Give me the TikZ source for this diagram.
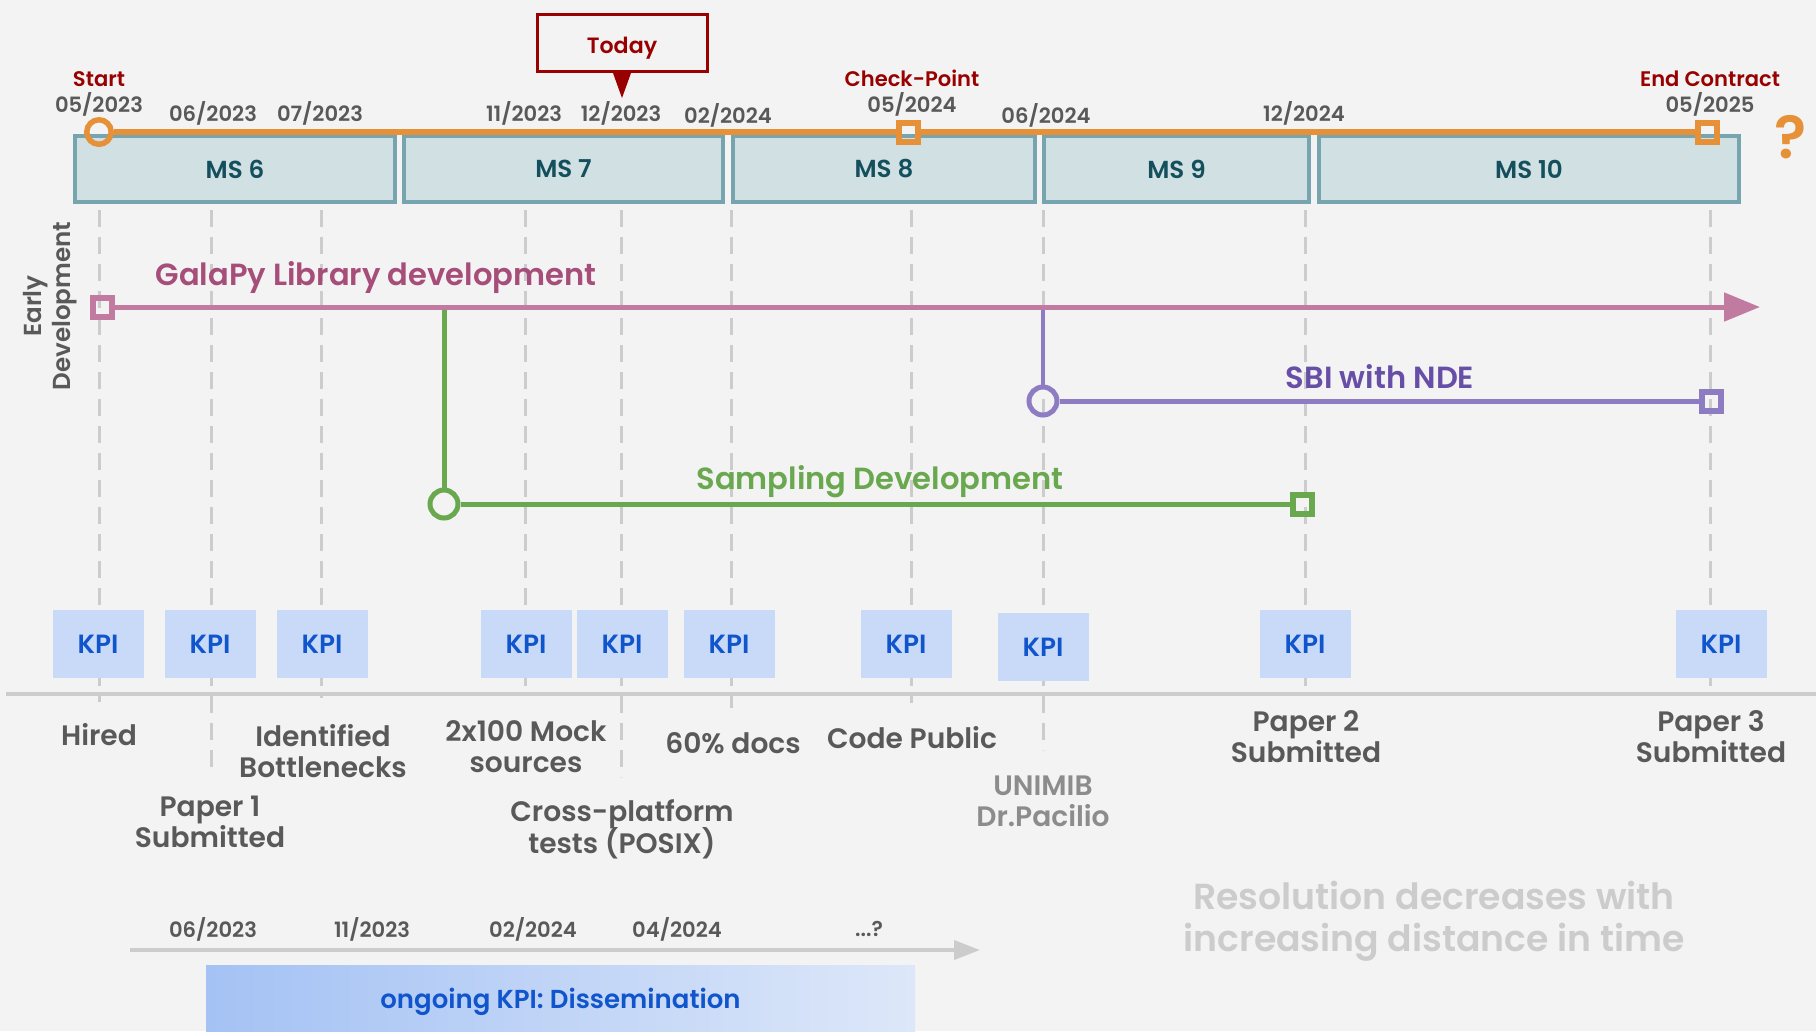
\documentclass[tikz,border=0pt]{standalone}
\usepackage{fontspec}
\setmainfont{Poppins}[BoldFont={Poppins SemiBold}]
\usetikzlibrary{positioning}
\usetikzlibrary{arrows.meta}
\definecolor{bgcol}{HTML}{F3F3F3}
\definecolor{msfill}{HTML}{D0E0E3}
\definecolor{msedge}{HTML}{76A5AF}
\definecolor{mstext}{HTML}{134F5C}
\definecolor{tlorange}{HTML}{E69138}
\definecolor{darkred}{HTML}{990000}
\definecolor{datetext}{HTML}{595959}
\definecolor{galapink}{HTML}{C27BA0}
\definecolor{galatext}{HTML}{A64D79}
\definecolor{sampgreen}{HTML}{6AA84F}
\definecolor{sbipurple}{HTML}{8E7CC3}
\definecolor{sbitext}{HTML}{674EA7}
\definecolor{kpifill}{HTML}{C9DAF8}
\definecolor{kpitext}{HTML}{1155CC}
\definecolor{guidegray}{HTML}{CCCCCC}
\definecolor{unimibgray}{HTML}{8C8C8C}
\definecolor{dissleft}{HTML}{A4C2F4}
\definecolor{dissright}{HTML}{DDE7F9}
\tikzset{x=0.1mm, y=-0.1mm,
    msbox/.style={
        draw=msedge,
        fill=msfill,
        line width=0.4mm,
        minimum height=6.6mm,
        inner sep=0pt,
        text=mstext,
        font=\bfseries\fontsize{7}{8}\selectfont},
    datelbl/.style={
        text=datetext,
        inner sep=0pt,
        font=\bfseries\fontsize{6}{7}\selectfont},
    milelbl/.style={
        text=darkred,
        inner sep=0pt,
        font=\bfseries\fontsize{6}{7}\selectfont},
    ringmark/.style={
        circle,
        draw,
        line width=0.5mm,
        minimum size=2.8mm,
        inner sep=0pt},
    boxmark/.style={
        rectangle,
        draw,
        line width=0.6mm,
        minimum size=1.9mm,
        inner sep=0pt},
    tracklbl/.style={
        inner sep=0pt,
        font=\bfseries\fontsize{8.7}{10}\selectfont},
    kpi/.style={
        fill=kpifill,
        minimum width=9.1mm,
        minimum height=6.8mm,
        inner sep=0pt,
        text=kpitext,
        font=\bfseries\fontsize{7.5}{9}\selectfont},
    eventlbl/.style={
        text=datetext,
        align=center,
        inner sep=0pt,
        font=\bfseries\fontsize{8}{8.8}\selectfont},
    guide/.style={
        draw=guidegray,
        line width=0.3mm,
        dash pattern=on 1.7mm off 1mm}}

\begin{document}
\begin{tikzpicture}
    \fill[bgcol] (0,0) rectangle (1816,1031);
    \useasboundingbox (0,0) rectangle (1816,1031);

    \foreach \i/\x/\yb in {1/99/702, 2/211/772, 3/321/698, 4/525/695, 5/621/777,
                           6/731/708, 7/911/703, 8/1043/750, 9/1305/687, 10/1710/687} {
        \coordinate (gtop\i) at (\x,210);
        \coordinate (gbot\i) at (\x,\yb);
        \draw[guide] (gtop\i) -- (gbot\i);
    }
    \coordinate (basel) at (6,694);
    \coordinate (baser) at (1816,694);
    \draw[guidegray, line width=0.35mm] (basel) -- (baser);

    \foreach \n/\x/\w in {6/235/32.0, 7/563.5/31.9, 8/884/30.2, 9/1176.5/26.5, 10/1529/42.0}
        \node[msbox, minimum width=\w mm] (ms\n) at (\x,169) {MS \n};

    \node[ringmark, draw=tlorange, minimum size=2.45mm, line width=0.55mm] (startpt) at (99,132) {};
    \node[boxmark, draw=tlorange] (checkpt) at (908,132) {};
    \node[boxmark, draw=tlorange] (endpt) at (1707,132) {};
    \draw[tlorange, line width=0.6mm] (startpt) -- (checkpt);
    \draw[tlorange, line width=0.6mm] (checkpt) -- (endpt);
    \node[text=tlorange, inner sep=0pt, font=\bfseries\fontsize{17}{17}\selectfont] (unknown) at (1791,137) {?};

    \foreach \i/\x/\y/\d in {1/99/104/05\slash 2023, 2/213/113/06\slash 2023, 3/320/113/07\slash 2023,
                             4/524/113/11\slash 2023, 5/621/113/12\slash 2023, 6/728/115/02\slash 2024,
                             7/912/104/05\slash 2024, 8/1046/115/06\slash 2024, 9/1304/113/12\slash 2024,
                             10/1710/104/05\slash 2025}
        \node[datelbl] (date\i) at (\x,\y) {\d};
    \node[milelbl, above=0.45mm of date1] (startlbl) {Start};
    \node[milelbl, above=0.45mm of date7] (checklbl) {Check-Point};
    \node[milelbl, above=0.45mm of date10] (endlbl) {End Contract};

    \node[draw=darkred, line width=0.3mm, fill=bgcol, minimum width=17mm, minimum height=5.7mm,
          text height=6pt, text depth=0pt, text=darkred,
          font=\bfseries\fontsize{6.3}{7}\selectfont] (today) at (622,43) {Today};
    \fill[darkred] ([xshift=-0.9mm]today.south) -- ([xshift=0.9mm]today.south)
        -- ([yshift=-2.5mm]today.south) -- cycle;

    \node[text=datetext, align=center, rotate=90, inner sep=0pt,
          font=\bfseries\fontsize{7}{8.2}\selectfont] (early) at (50,306) {Early\\Development};

    \node[ringmark, draw=sampgreen] (sampstart) at (444,504) {};
    \node[boxmark, draw=sampgreen] (sampend) at (1302,504) {};
    \coordinate (sampbr) at (444,309);
    \draw[sampgreen, line width=0.5mm] (sampbr) -- (sampstart);
    \draw[sampgreen, line width=0.5mm] (sampstart) -- (sampend);
    \node[tracklbl, text=sampgreen] (samplbl) at (880,482) {Sampling Development};

    \node[ringmark, draw=sbipurple] (sbistart) at (1043,401) {};
    \node[boxmark, draw=sbipurple] (sbiend) at (1711,401) {};
    \coordinate (sbibr) at (1043,309);
    \draw[sbipurple, line width=0.45mm] (sbibr) -- (sbistart);
    \draw[sbipurple, line width=0.5mm] (sbistart) -- (sbiend);
    \node[tracklbl, text=sbitext] (sbilbl) at (1380,377) {SBI with NDE};

    \node[boxmark, draw=galapink] (galastart) at (102,307) {};
    \coordinate (galaend) at (1760,307);
    \draw[galapink, line width=0.5mm, -{Triangle[length=3.6mm,width=2.8mm]}] (galastart) -- (galaend);
    \node[tracklbl, text=galatext] (galalbl) at (376,278) {GalaPy Library development};

    \foreach \i/\x/\y in {1/98/644, 2/210/644, 3/322/644, 4/526/644, 5/622/644,
                          6/729/644, 7/906/644, 8/1043/647, 9/1305/644, 10/1721/644}
        \node[kpi] (kpi\i) at (\x,\y) {KPI};

    \node[eventlbl] (hired) at (99,735) {Hired};
    \node[eventlbl] (paper1) at (210,822) {Paper 1\\Submitted};
    \node[eventlbl] (bottl) at (323,751) {Identified\\Bottlenecks};
    \node[eventlbl] (mock) at (526,747) {2x100 Mock\\sources};
    \node[eventlbl] (posix) at (622,829) {Cross-platform\\[-0.5mm]tests (POSIX)};
    \node[eventlbl] (docs) at (733,743) {60\% docs};
    \node[eventlbl] (codepub) at (912,738) {Code Public};
    \node[eventlbl, text=unimibgray] (unimib) at (1043,801) {UNIMIB\\Dr.Pacilio};
    \node[eventlbl] (paper2) at (1306,737) {Paper 2\\Submitted};
    \node[eventlbl] (paper3) at (1711,737) {Paper 3\\Submitted};

    \coordinate (dissl) at (130,950);
    \coordinate (dissr) at (980,950);
    \draw[guidegray, line width=0.4mm, -{Triangle[length=2.6mm,width=1.9mm]}] (dissl) -- (dissr);
    \foreach \i/\x/\d in {1/213/06\slash 2023, 2/372/11\slash 2023, 3/533/02\slash 2024,
                          4/677/04\slash 2024}
        \node[datelbl] (dissdate\i) at (\x,929) {\d};
    \node[datelbl] (dissdate5) at (869,929) {...?};
    \node[left color=dissleft, right color=dissright, minimum width=70.9mm, minimum height=6.6mm,
          text depth=0pt, text=kpitext, font=\bfseries\fontsize{7.4}{9}\selectfont] (diss) at (560.5,998)
          {ongoing KPI: Dissemination};

    \node[text=guidegray, align=center, inner sep=0pt,
          font=\bfseries\fontsize{10.3}{12}\selectfont] (resol) at (1434,921)
          {Resolution decreases with\\increasing distance in time};
\end{tikzpicture}
\end{document}
